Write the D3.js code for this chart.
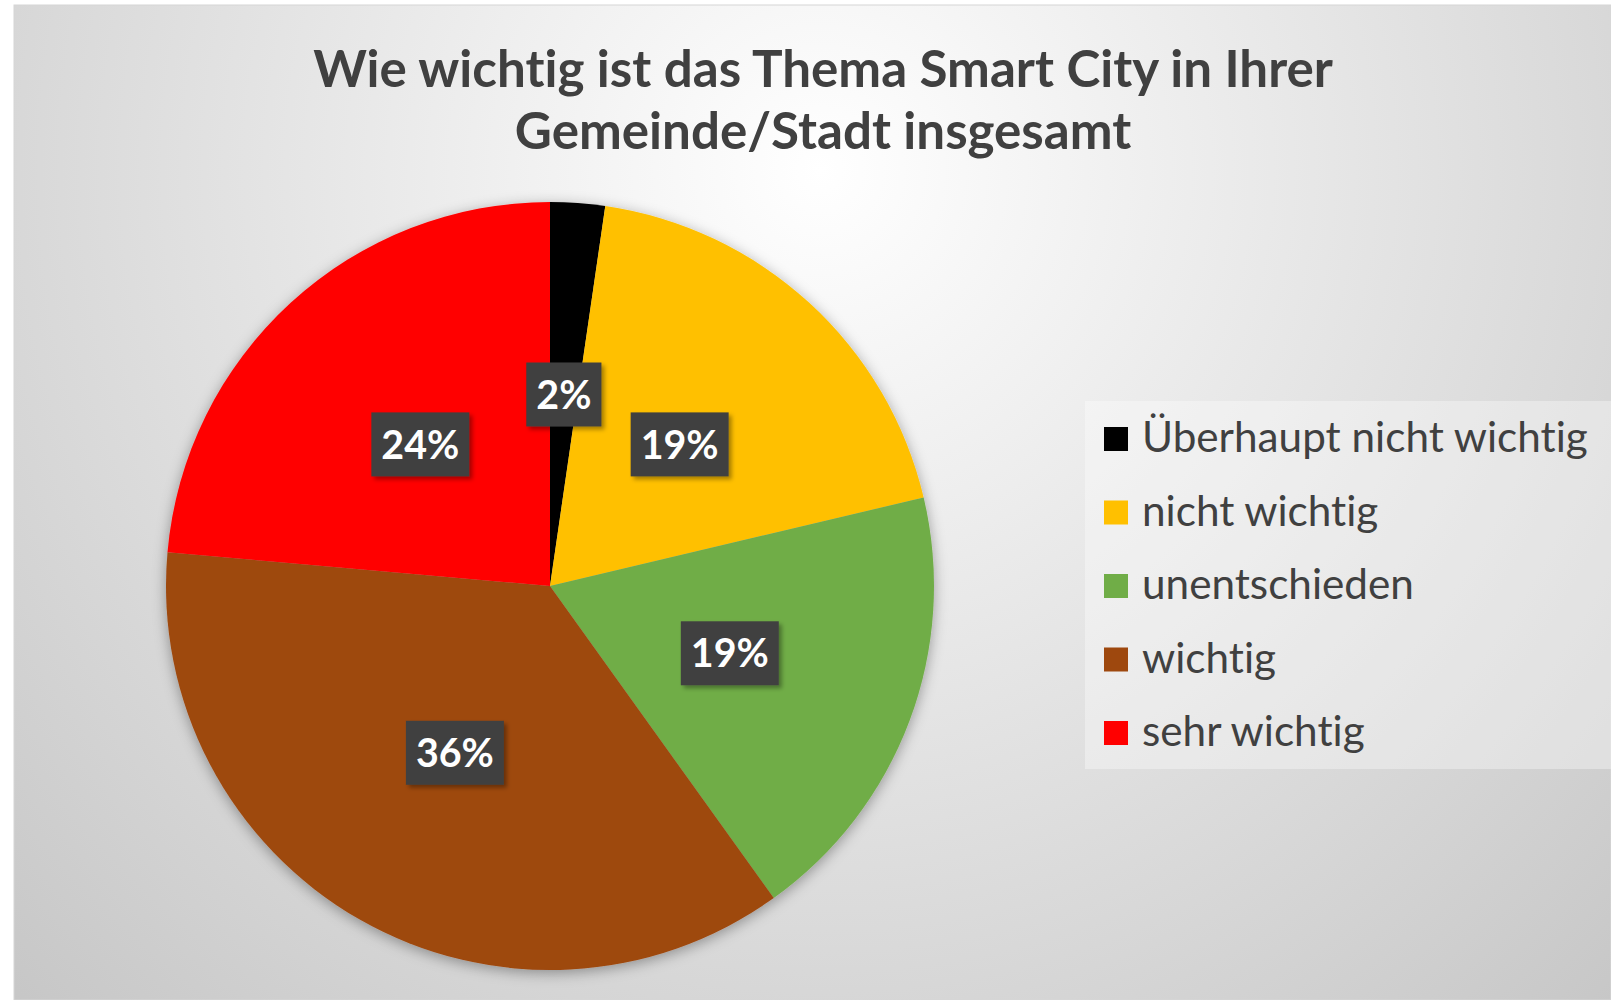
<!DOCTYPE html>
<html>

<head>
    <meta charset="utf-8">
    <script src="https://d3js.org/d3.v7.min.js"></script>
    <style>
        body { margin: 0; background: #fff; }
        text { font-family: Lato, "Open Sans", sans-serif; font-variant-ligatures: none; }
    </style>
</head>

<body>
    <script>
        // answers (share of respondents, %)
        var categories = ["Überhaupt nicht wichtig", "nicht wichtig", "unentschieden", "wichtig", "sehr wichtig"];
        var shares = [2.3, 19.0, 18.8, 36.3, 23.6];
        var colors = ["#000000", "#ffc000", "#70ad47", "#9e480e", "#ff0000"];
        var titleLines = ["Wie wichtig ist das Thema Smart City in Ihrer", "Gemeinde/Stadt insgesamt"];

        var data = categories.map(function (c, i) { return { name: c, value: shares[i], color: colors[i] } });
    </script>
    <script>
        var outerWidth = 1611, outerHeight = 1000,
            svg = d3.select("body").append("svg").attr("width", outerWidth).attr("height", outerHeight);

        var defs = svg.append("defs");

        var grad = defs.append("radialGradient")
            .attr("id", "bg")
            .attr("gradientUnits", "userSpaceOnUse")
            .attr("cx", 820).attr("cy", 170).attr("r", 1170);
        grad.append("stop").attr("offset", "0%").attr("stop-color", "#ffffff");
        grad.append("stop").attr("offset", "100%").attr("stop-color", "#c6c6c6");

        defs.append("filter").attr("id", "pieShadow")
            .attr("x", "-10%").attr("y", "-10%").attr("width", "120%").attr("height", "120%")
            .append("feDropShadow")
            .attr("dx", 0).attr("dy", 3).attr("stdDeviation", 7)
            .attr("flood-color", "#000").attr("flood-opacity", 0.35);

        defs.append("filter").attr("id", "boxShadow")
            .attr("x", "-20%").attr("y", "-20%").attr("width", "150%").attr("height", "150%")
            .append("feDropShadow")
            .attr("dx", 3).attr("dy", 3).attr("stdDeviation", 2)
            .attr("flood-color", "#000").attr("flood-opacity", 0.35);

        // chart area
        svg.append("rect")
            .attr("x", 14).attr("y", 5)
            .attr("width", outerWidth - 14).attr("height", outerHeight - 5)
            .attr("fill", "url(#bg)")
            .attr("stroke", "#d6d6d6");

        // fit a text to a given width, returns font size
        function fitSize(sel, target) {
            var w = sel.node().getComputedTextLength();
            var size = parseFloat(sel.style("font-size"));
            return size * target / w;
        }

        // title
        var title = svg.append("g").attr("fill", "#404040").attr("font-weight", "bold").attr("text-anchor", "middle");
        var t1 = title.append("text").attr("x", 823).attr("y", 87).style("font-size", "50px").text(titleLines[0]);
        var titleSize = fitSize(t1, 1020);
        t1.style("font-size", titleSize + "px");
        title.append("text").attr("x", 823).attr("y", 149).style("font-size", titleSize + "px").text(titleLines[1]);

        // pie
        var cx = 550, cy = 586, radius = 384;
        var pie = d3.pie().sort(null).value(function (d) { return d.value });
        var arc = d3.arc().innerRadius(0).outerRadius(radius);
        var arcs = pie(data);

        var g = svg.append("g").attr("transform", "translate(" + cx + "," + cy + ")");

        g.append("g")
            .attr("filter", "url(#pieShadow)")
            .selectAll("path")
            .data(arcs)
            .enter().append("path")
            .attr("d", arc)
            .attr("fill", function (d) { return d.data.color });

        var labels = g.selectAll("g.lbl")
            .data(arcs)
            .enter().append("g")
            .attr("class", "lbl")
            .attr("transform", function (d) { return "translate(" + arc.centroid(d) + ")" });

        var labelRects = labels.append("rect")
            .attr("fill", "#404040")
            .attr("filter", "url(#boxShadow)");

        var labelTexts = labels.append("text")
            .attr("text-anchor", "middle")
            .attr("dy", "0.36em")
            .attr("fill", "#fff")
            .attr("font-weight", "bold")
            .style("font-size", "40px")
            .text(function (d) { return Math.round(d.data.value) + "%" });

        var labelSize = fitSize(labelTexts.filter(function (d, i) { return i == 4 }), 78);
        labelTexts.style("font-size", labelSize + "px");

        labelRects.each(function () {
            var t = d3.select(this.parentNode).select("text").node();
            var w = t.getComputedTextLength() + 20;
            d3.select(this)
                .attr("x", -w / 2).attr("y", -32)
                .attr("width", w).attr("height", 64);
        });

        // legend
        var legend = svg.append("g");
        legend.append("rect")
            .attr("x", 1085).attr("y", 401)
            .attr("width", outerWidth - 1085).attr("height", 368)
            .attr("fill", "#ffffff").attr("fill-opacity", 0.35);

        var legendY = d3.scalePoint().domain(categories).range([439, 733]);

        var items = legend.selectAll("g.item")
            .data(data)
            .enter().append("g")
            .attr("class", "item")
            .attr("transform", function (d) { return "translate(1104," + legendY(d.name) + ")" });

        items.append("rect")
            .attr("x", 0).attr("y", -12)
            .attr("width", 24).attr("height", 24)
            .attr("fill", function (d) { return d.color });

        var legendTexts = items.append("text")
            .attr("x", 38).attr("y", 13)
            .attr("fill", "#404040")
            .style("font-size", "40px")
            .text(function (d) { return d.name });

        var legendSize = fitSize(legendTexts.filter(function (d, i) { return i == 0 }), 446);
        legendTexts.style("font-size", legendSize + "px");
    </script>
</body>

</html>
